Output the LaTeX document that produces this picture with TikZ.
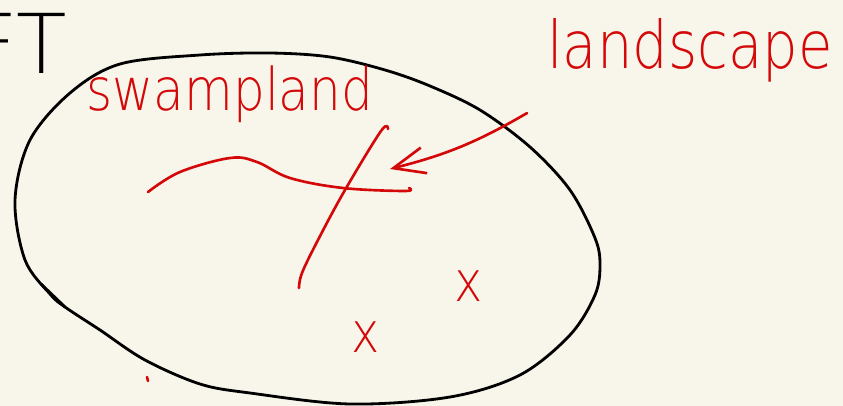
\documentclass[tikz,border=0pt]{standalone}
\usepackage{fontspec}
\setmainfont{DejaVu Sans}[UprightFont={* ExtraLight}]
\newfontfamily\handfont{DejaVu Sans}[UprightFont={* ExtraLight}, FakeStretch=0.85]
\usetikzlibrary{arrows.meta, positioning}
\definecolor{paper}{RGB}{248,246,235}
\definecolor{ink}{RGB}{212,8,8}

\begin{document}
\begin{tikzpicture}[
    x=0.02cm, y=-0.02cm,
    outline/.style={draw=black, line width=1.6pt, line cap=round, line join=round},
    stroke/.style={draw=ink, line width=1.5pt, line cap=round, line join=round},
    pointer/.style={stroke, -{Straight Barb[length=18pt, width=15pt, line width=1.5pt]}},
    word/.style={text=ink, inner sep=0pt, anchor=base},
    cross/.style={text=ink, inner sep=0pt, font=\handfont\fontsize{32}{33}\selectfont}
]

% Paper
\useasboundingbox (0,0) rectangle (843,406);
\fill[paper] (0,0) rectangle (843,406);
\clip (0,0) rectangle (843,406);

% Cut-off heading
\node[anchor=base east, inner sep=0pt, font=\fontsize{47}{50}\selectfont] (eft) at (67,73) {EFT};

% Blob
\draw[outline] plot[smooth cycle, tension=0.55] coordinates {
    (65,307) (100,330) (145,360) (200,384) (250,393) (350,404) (450,397)
    (520,375) (570,335) (595,295) (600,265) (595,238) (570,190) (530,147)
    (480,110) (430,86) (385,70) (330,57) (270,53) (200,55) (120,64)
    (70,93) (30,140) (15,200) (25,260) (50,294)};
\draw[outline] (41,284) -- (65,307);

% Labels
\node[word, font=\handfont\fontsize{33.5}{35}\selectfont] (swampland) at (230,110) {swampland};
\node[word, font=\handfont\fontsize{37.5}{39}\selectfont] (landscape) at (690,68) {landscape};

% Curves inside
\draw[stroke] plot[smooth, tension=0.6] coordinates {
    (148,192) (180,172) (230,158) (257,162) (290,178) (343,188) (405,191) (409,188)};
\draw[stroke] plot[smooth, tension=0.6] coordinates {
    (388,129) (381,131) (345,190) (318,240) (302,273) (299,288)};

% Arrow
\coordinate (tip) at (390,169);
\draw[pointer] ([shift={(-20,31)}]landscape.south west) to[bend left=8] (tip);

% Points
\node[cross] (p1) at (469,286) {x};
\node[cross] (p2) at (366,337) {x};
\draw[stroke] (147,377) -- (148,381);

\end{tikzpicture}
\end{document}
